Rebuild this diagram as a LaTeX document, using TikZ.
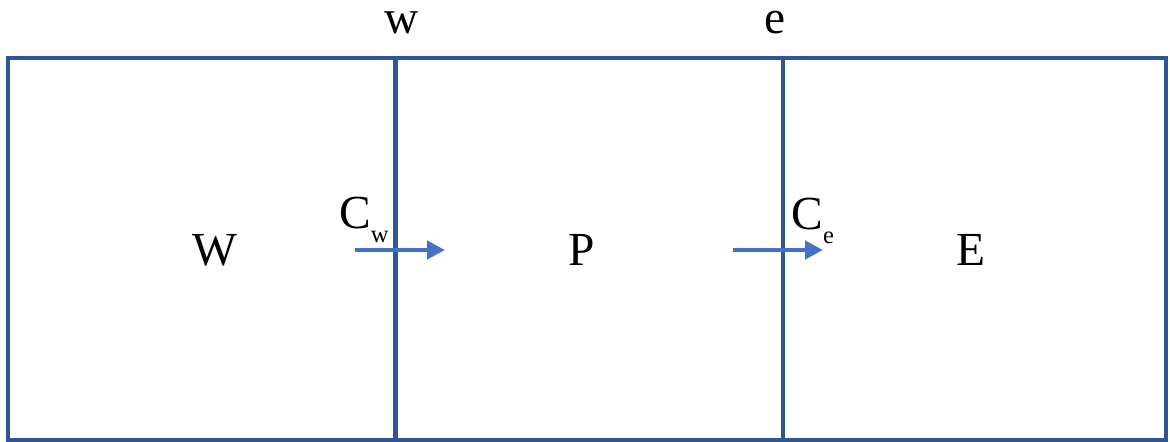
\documentclass[tikz,border=0pt]{standalone}
\usepackage{fontspec}
\setmainfont{Liberation Serif}
\usepackage{tikz}
\usetikzlibrary{arrows.meta,positioning}

\definecolor{gridblue}{HTML}{2F5597}
\definecolor{fluxblue}{HTML}{4472C4}

\begin{document}
\begin{tikzpicture}[
    x=0.02cm, y=-0.02cm,
    every node/.style={font=\fontsize{27}{32}\selectfont, inner sep=0pt},
    cell/.style={anchor=base},
    face/.style={anchor=base},
    wall/.style={draw=gridblue, line width=2.3pt},
    flux/.style={-{Triangle[length=0.36cm, width=0.36cm]}, line width=2.8pt, draw=fluxblue}
]
    \useasboundingbox (0,0) rectangle (1170,441);

    % control volumes
    \draw [wall] (8,58) rectangle (1166,440);
    \draw [wall] (395.5,58) -- (395.5,441);
    \draw [wall] (783,58) -- (783,441);

    % cell centres and faces
    \node [cell] (W) at (215,265) {W};
    \node [cell] (P) at (582,265) {P};
    \node [cell] (E) at (971,265) {E};
    \node [face] (w) at (402,33) {w};
    \node [face] (e) at (775,33) {e};

    % convective fluxes
    \coordinate (cw1) at (355,250);
    \coordinate (cw2) at (445,250);
    \coordinate (ce1) at (733,250);
    \coordinate (ce2) at (823,250);
    \draw [flux] (cw1) -- (cw2);
    \draw [flux] (ce1) -- (ce2);
    \node [anchor=base west] (Cw) at (339,228) {C\raisebox{-8.5pt}{\fontsize{14}{14}\selectfont w}};
    \node [anchor=base west] (Ce) at (791,229) {C\raisebox{-8.5pt}{\fontsize{14}{14}\selectfont e}};
\end{tikzpicture}
\end{document}
